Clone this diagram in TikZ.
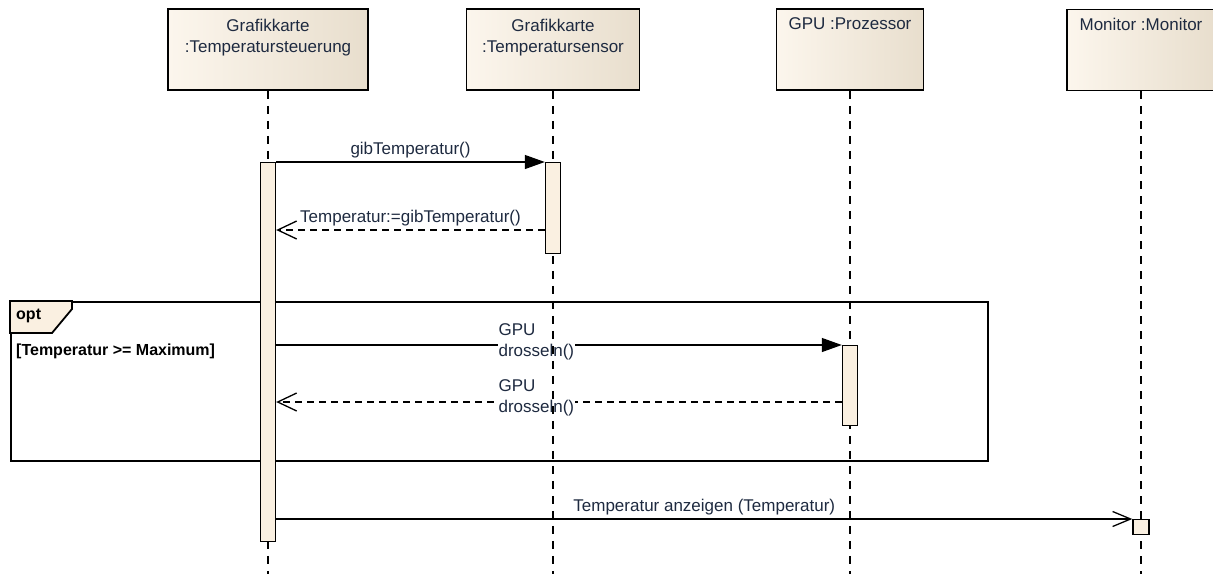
\documentclass[tikz,border=0pt]{standalone}
\usepackage{fontspec}
\setmainfont{Liberation Sans}
\usepackage{tikz}
\usetikzlibrary{arrows.meta,positioning}
\usepackage{xcolor}
\definecolor{beige}{RGB}{250,240,225}
\definecolor{beigedunkel}{RGB}{232,222,205}
\definecolor{schrift}{RGB}{30,42,64}
\pgfdeclarelayer{vorne}
\pgfsetlayers{main,vorne}

\begin{document}
\begin{tikzpicture}[x=1pt,y=-1pt,
  every node/.style={font=\fontsize{17}{21}\selectfont,text=schrift},
  kopf/.style={draw,line width=1.8pt,left color=beige!60!white,right color=beigedunkel,
    minimum height=81pt,inner sep=0pt},
  kopftext/.style={align=center,inner sep=0pt},
  balken/.style={draw,line width=1.4pt,fill=beige,minimum width=15pt,inner sep=0pt},
  lebenslinie/.style={line width=1.6pt,dash pattern=on 8pt off 7pt},
  aufruf/.style={line width=1.3pt,-{Triangle[length=20pt,width=14pt]}},
  aufrufoffen/.style={line width=1.3pt,-{Straight Barb[length=18pt,width=15pt]}},
  antwort/.style={line width=1.3pt,dash pattern=on 7pt off 5pt,-{Straight Barb[length=19pt,width=18pt]}},
  rahmen/.style={line width=1.8pt},
  fett/.style={font=\fontsize{16}{21}\selectfont\bfseries,text=black,inner sep=2pt}]

  % Bildausschnitt
  \useasboundingbox (0,0) rectangle (1213,574);
  \clip (0,0) rectangle (1213,574);

  % Fragment opt
  \node[rahmen,draw,minimum width=977pt,minimum height=159pt,anchor=north west,inner sep=0pt] (optrahmen) at (10,301) {};
  \draw[rahmen,fill=beige] (optrahmen.north west) -- (72,301) -- (72,309) -- (52,333) -- (10,333) -- cycle;
  \node[fett,anchor=west] (optname) at (14,316) {opt};
  \node[fett,anchor=west] (bedingung) at (14,351) {[Temperatur >= Maximum]};

  % Kopfzeilen der Objekte
  \node[kopf,minimum width=200pt] (steuerung) at (268,49.5) {};
  \node[kopf,minimum width=173pt] (sensor) at (553,49.5) {};
  \node[kopf,minimum width=147pt] (gpu) at (850,49.5) {};
  \node[kopf,minimum width=148pt] (monitor) at (1141,50) {};
  \node[kopftext] (steuerungname) at (268,38) {Grafikkarte\\:Temperatursteuerung};
  \node[kopftext] (sensorname) at (553,38) {Grafikkarte\\:Temperatursensor};
  \node[kopftext] (gpuname) at (850,24) {GPU :Prozessor};
  \node[kopftext] (monitorname) at (1141,24) {Monitor :Monitor};

  % Aktivierungsbalken
  \begin{pgfonlayer}{vorne}
    \node[balken,minimum height=379pt,anchor=north] (steuerbalken) at (268,162) {};
    \node[balken,minimum height=91pt,anchor=north] (sensorbalken) at (553,162) {};
    \node[balken,minimum height=80pt,anchor=north] (gpubalken) at (850,345) {};
    \node[balken,minimum height=15pt,minimum width=16pt,anchor=north] (monitorbalken) at (1141,519) {};
  \end{pgfonlayer}

  % Nachrichten
  \draw[aufruf] (steuerbalken.north east) -- (sensorbalken.north west)
    node[midway,above] (m1text) {gibTemperatur()};
  \draw[antwort] (sensorbalken.west |- 0,230) -- (steuerbalken.east |- 0,230)
    node[midway,above] (m2text) {Temperatur:=gibTemperatur()};
  \draw[aufruf] (steuerbalken.east |- gpubalken.north) -- (gpubalken.north west)
    node[pos=0.46,fill=white,align=left,inner sep=1pt,yshift=3pt] (m3text) {GPU\\drosseln()};
  \draw[antwort] (gpubalken.west |- 0,402) -- (steuerbalken.east |- 0,402)
    node[pos=0.54,fill=white,align=left,inner sep=1pt,yshift=4pt] (m4text) {GPU\\drosseln()};
  \draw[aufrufoffen] (steuerbalken.east |- monitorbalken.north) -- (monitorbalken.north west)
    node[midway,above] (m5text) {Temperatur anzeigen (Temperatur)};

  % Lebenslinien
  \foreach \obj in {steuerung,sensor,gpu,monitor}{
    \draw[lebenslinie] (\obj.south) -- (\obj.south |- 0,574);
  }
\end{tikzpicture}
\end{document}
